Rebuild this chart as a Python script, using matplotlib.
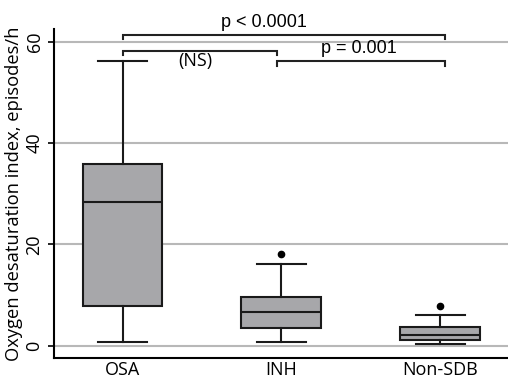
import matplotlib
matplotlib.use("Agg")
import matplotlib.pyplot as plt

# ---- data ----
groups = ["OSA", "INH", "Non-SDB"]
whisker_low = [0.7, 0.7, 0.33]
q1 = [7.8, 3.55, 1.07]
median = [28.3, 6.6, 2.2]
q3 = [35.8, 9.6, 3.7]
whisker_high = [56.2, 16.1, 6.05]
outliers = [[], [18.1], [7.8]]

yticks = [0, 20, 40, 60]
ylabel = "Oxygen desaturation index, episodes/h"

# significance brackets: (x_start, x_end, height, label, label_x, label_y)
bracket_x0 = [1.0, 1.0, 1.97]
bracket_x1 = [3.03, 1.97, 3.03]
bracket_y = [61.4, 58.2, 56.1]
bracket_labels = ["p < 0.0001", "(NS)", "p = 0.001"]
label_x = [1.89, 1.46, 2.49]
label_y = [62.2, 54.4, 57.0]
label_fonts = ["Liberation Sans", "Open Sans", "Liberation Sans"]

# ---- figure ----
fig = plt.figure(figsize=(5.08, 3.79), dpi=100)
ax = fig.add_axes([0.1063, 0.0562, 0.8937, 0.8673])

stats = []
for i, g in enumerate(groups):
    stats.append(dict(label=g, whislo=whisker_low[i], q1=q1[i], med=median[i],
                      q3=q3[i], whishi=whisker_high[i], fliers=outliers[i]))

edge = "#1a1a1a"
ax.bxp(stats, positions=[1, 2, 3], widths=0.503, capwidths=0.308,
       patch_artist=True, showfliers=True,
       boxprops=dict(facecolor="#a7a7aa", edgecolor=edge, linewidth=1.5),
       medianprops=dict(color=edge, linewidth=1.5),
       whiskerprops=dict(color=edge, linewidth=1.5),
       capprops=dict(color=edge, linewidth=1.5),
       flierprops=dict(marker="o", markerfacecolor="black", markeredgecolor="black",
                       markersize=4.5))

ax.set_xlim(0.569, 3.425)
ax.set_ylim(-2.37, 62.5)
ax.set_yticks(yticks)
ax.set_yticklabels([str(t) for t in yticks], rotation=90, va="center",
                   family="Open Sans", fontsize=13)
ax.set_xticks([1, 2, 3])
ax.set_xticklabels(groups, family="Open Sans", fontsize=13)
ax.tick_params(axis="x", length=0, pad=2.5)
ax.tick_params(axis="y", length=4, width=1.2, pad=3.5)
ax.set_ylabel(ylabel, family="Open Sans", fontsize=13.2, labelpad=2)

ax.yaxis.grid(True, color="#b8b8b8", linewidth=1.5)
ax.set_axisbelow(True)
for s in ["top", "right"]:
    ax.spines[s].set_visible(False)
for s in ["left", "bottom"]:
    ax.spines[s].set_linewidth(1.5)
    ax.spines[s].set_color("black")

tick_drop = 0.9
for x0, x1, y in zip(bracket_x0, bracket_x1, bracket_y):
    ax.plot([x0, x0, x1, x1], [y - tick_drop, y, y, y - tick_drop],
            color="#222222", linewidth=1.5, clip_on=False, solid_joinstyle="miter")

for t, x, y, f in zip(bracket_labels, label_x, label_y, label_fonts):
    ax.text(x, y, t, ha="center", va="bottom", fontsize=13, family=f, clip_on=False)

fig.savefig("out.png", dpi=100)
